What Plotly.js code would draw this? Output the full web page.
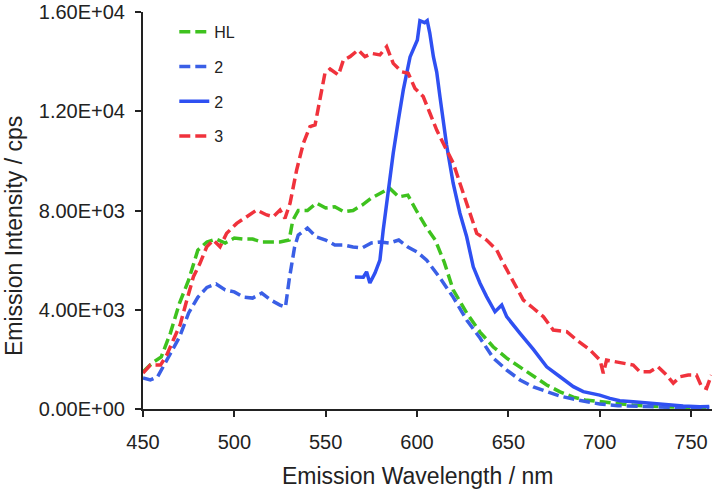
<!DOCTYPE html>
<html>
<head>
<meta charset="utf-8">
<script src="https://cdn.plot.ly/plotly-3.0.1.min.js"></script>
<style>html,body{margin:0;padding:0;background:#fff;}#chart{width:716px;height:493px;}</style>
</head>
<body>
<div id="chart"></div>
<script>
// HL (green dashed)
const hlX = [450,455,460,465,470,475,480,485,490,495,500,505,510,515,520,525,530,532,535,540,545,550,555,560,565,570,575,580,585,590,595,600,605,610,612.6,615,619.8,627.2,634.5,641.8,649.1,656.4,663.7,671,678.3,685.6,692,700,710,718,728,737,745,752,760];
const hlY = [1490,1850,2100,3060,4270,5200,6400,6730,6850,6690,6890,6850,6850,6730,6730,6730,6810,7600,8000,8000,8300,8100,8150,7950,8000,8220,8500,8700,8900,8550,8620,7950,7330,6810,6300,5900,4800,3870,3100,2500,2050,1690,1290,970,690,480,360,290,200,160,110,90,60,50,40];
// 2 (blue dashed)
const c2dX = [450,454,458,461,465,470,475,480,485,490,495,500,505,510,515,520,525,528,530,533,535,540,545,550,555,560,565,570,575,580,585,590,595,600,605.3,612.6,619.8,627.2,634.5,641.8,649.1,656.4,663.7,671,678.3,685.6,692,700,710,720,730,740,750,760];
const c2dY = [1250,1170,1300,1700,2250,2900,3870,4500,4900,5040,4800,4720,4510,4470,4670,4390,4190,4110,5200,6530,7010,7290,6930,6810,6610,6610,6530,6490,6690,6730,6690,6810,6530,6330,6000,5280,4510,3590,2860,2050,1570,1170,890,690,520,400,300,200,130,100,80,70,60,60];
// 2 (blue solid)
const c2sX = [566,570.6,572.4,574.2,577,579.7,581.5,584.3,587,589.8,592.5,596.2,598,600.2,601.6,604.2,605.6,607,609,610.8,612.6,614.4,616.2,619.8,623.5,627.2,630.8,634.5,638.1,642.7,645.4,646.4,649.1,654.6,656.4,663.7,671,678.3,685.6,691,700,705.6,711,718.4,727.5,736.6,745.7,754.8,760];
const c2sY = [5320,5310,5530,5080,5480,6000,7210,8830,10320,11650,12860,14190,14470,14870,15650,15570,15650,15150,14190,13580,12570,11650,10640,9100,7890,6940,5730,5070,4530,3920,4150,4190,3720,3180,3050,2400,1700,1300,900,700,560,430,330,290,230,160,120,90,100];
// 3 (red dashed)
const c3X = [450,454,459.6,463,466.6,470.3,474,477.6,481.2,484.9,488.5,492.2,495.8,501.3,506.8,512.2,517.7,521.3,525,527.7,530.5,534.1,537.8,541.4,544.2,547,549.6,552.4,557,559.7,563.3,567.8,571.5,575.2,579.7,583.4,587,591.6,595.2,598.9,603.4,607.1,610.8,615.3,619.9,623.5,627.2,632.7,638.1,643.6,647.3,652.7,658.2,663.7,669.2,674.6,682,687.4,694.7,700.2,702,703.8,708.3,712.9,718.4,722,727.5,732,736.6,740.3,743.9,748.5,753,755.8,758.5,761.2];
const c3Y = [1450,1770,1770,2180,2780,3390,4390,5330,5870,6540,6810,6540,7080,7480,7750,8020,7820,7750,8020,7680,8290,9630,10710,11380,11450,12450,13530,13700,13460,14060,14200,14470,14200,14330,14270,14600,13930,13590,13530,12920,12590,11920,11240,10570,9900,9100,8300,7080,6810,6410,5870,5100,4390,4060,3720,3180,3120,2780,2380,1970,1440,1970,1910,1840,1770,1500,1500,1700,1370,1040,1300,1370,1370,900,830,1370];

const yTicks = [0,4000,8000,12000,16000];
const yTickText = ["0.00E+00","4.00E+03","8.00E+03","1.20E+04","1.60E+04"];
const xTicks = [450,500,550,600,650,700,750];
const xTitle = "Emission Wavelength / nm";
const yTitle = "Emission Intensity / cps";

const green = "#3ec21e", blue = "#3a5fe6", blueSolid = "#2f50f2", red = "#f0323c";
const dash = "11px,5px";

const traces = [
  {x: hlX, y: hlY, name: "HL", legendgroup: "a", line: {color: green, width: 3.5, dash: dash}},
  {x: c2dX, y: c2dY, name: "2", legendgroup: "b", line: {color: blue, width: 3.5, dash: dash}},
  {x: c2sX, y: c2sY, name: "2", legendgroup: "c", line: {color: blueSolid, width: 3.5}},
  {x: c3X, y: c3Y, name: "3", legendgroup: "d", line: {color: red, width: 3.5, dash: dash}}
].map(t => Object.assign({type: "scatter", mode: "lines"}, t));

const fam = "Liberation Sans, Arial, sans-serif";
const tickFont = {family: fam, size: 20, color: "#222"};
const titleFont = {family: fam, size: 23, color: "#222"};
const layout = {
  width: 716, height: 493,
  margin: {l: 143, r: 4, t: 12, b: 84},
  paper_bgcolor: "#fff", plot_bgcolor: "#fff",
  showlegend: true,
  legend: {x: 0.055, y: 0.993, xanchor: "left", yanchor: "top", bgcolor: "rgba(0,0,0,0)",
           font: {family: fam, size: 16, color: "#222"},
           traceorder: "grouped", tracegroupgap: 11},
  xaxis: {range: [450, 761.5], tickvals: xTicks, showgrid: false, zeroline: false,
          showline: true, linecolor: "#222", linewidth: 2, ticks: "outside", ticklen: 6, tickwidth: 2, tickcolor: "#222",
          tickfont: tickFont, ticklabelstandoff: 8},
  yaxis: {range: [0, 16000], tickvals: yTicks, ticktext: yTickText, showgrid: false, zeroline: false,
          showline: true, linecolor: "#222", linewidth: 2, ticks: "outside", ticklen: 6, tickwidth: 2, tickcolor: "#222",
          tickfont: tickFont, ticklabelstandoff: 6},
  annotations: [
    {text: xTitle, xref: "paper", yref: "paper", x: (417 - 143) / 569, y: (409 - 476) / 397,
     xanchor: "center", yanchor: "middle", showarrow: false, font: titleFont},
    {text: yTitle, xref: "paper", yref: "paper", x: (14 - 143) / 569, y: (409 - 236) / 397,
     xanchor: "center", yanchor: "middle", showarrow: false, textangle: -90, font: titleFont}
  ]
};
Plotly.newPlot("chart", traces, layout, {staticPlot: true, displayModeBar: false});
</script>
</body>
</html>
